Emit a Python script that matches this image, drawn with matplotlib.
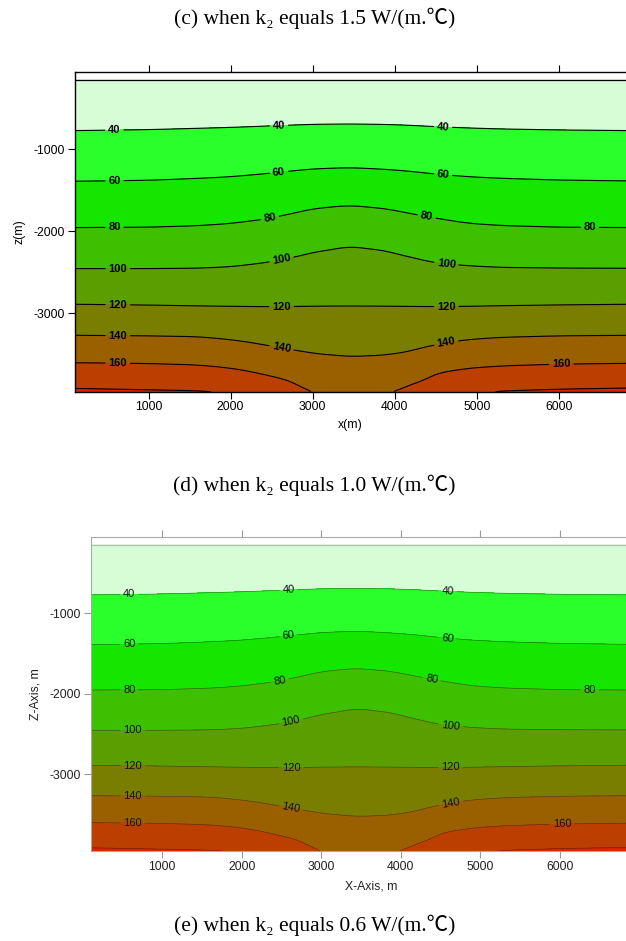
import numpy as np
import matplotlib
matplotlib.use("Agg")
import matplotlib.pyplot as plt

plt.rcParams['axes.unicode_minus'] = False
plt.rcParams['font.family'] = ['Liberation Sans', 'DejaVu Sans']

# ---------------- data ----------------
col_x = [100, 1000, 1600, 2000, 2400, 2700, 3000, 3450, 3900, 4200, 4500, 4900, 5300, 6000, 6840]
levels = [40, 60, 80, 100, 120, 140, 160, 180]
nan = np.nan
iso_40 = [-772, -760, -744, -733, -718, -706, -696, -691, -697, -708, -724, -740, -752, -764, -772]
iso_60 = [-1390, -1378, -1355, -1335, -1300, -1270, -1240, -1224, -1246, -1270, -1303, -1335, -1354, -1375, -1386]
iso_80 = [-1955, -1950, -1932, -1905, -1855, -1795, -1725, -1683, -1725, -1785, -1840, -1903, -1930, -1950, -1955]
iso_100 = [-2455, -2455, -2450, -2432, -2385, -2330, -2255, -2179, -2235, -2315, -2385, -2420, -2440, -2448, -2451]
iso_120 = [-2890, -2900, -2910, -2915, -2919, -2918, -2913, -2911, -2913, -2916, -2918, -2915, -2908, -2898, -2890]
iso_140 = [-3268, -3275, -3285, -3322, -3385, -3440, -3490, -3528, -3510, -3465, -3385, -3320, -3293, -3275, -3268]
iso_160 = [-3602, -3612, -3630, -3668, -3745, -3815, nan, nan, nan, -3870, -3735, -3670, -3642, -3620, -3610]
iso_180 = [-3915, -3932, -3943, nan, nan, nan, nan, nan, nan, nan, nan, nan, -3945, -3922, -3907]
bottom_T = [182.6, 181.5, 180.8, 179.7, 172.0, 166.0, 159.5, 154.0, 159.0, 163.0, 168.0, 178.8, 180.8, 181.5, 182.0]
surface_T = 20.0
z_top = -150.0
z_bottom = -3955.0

titles = ["(c) when k\u2082 equals 1.5 W/(m.\u2103)",
          "(d) when k\u2082 equals 1.0 W/(m.\u2103)",
          "(e) when k\u2082 equals 0.6 W/(m.\u2103)"]
x_ticks = [1000, 2000, 3000, 4000, 5000, 6000]
z_ticks = [-1000, -2000, -3000]

# label x positions (per level) for each panel
labels_p1 = {40: [585, 2590, 4590], 60: [585, 2590, 4590], 80: [585, 2480, 4390, 6380],
             100: [626, 2620, 4630], 120: [626, 2620, 4630], 140: [626, 2620, 4630],
             160: [626, 6030]}
labels_p2 = {40: [585, 2590, 4590], 60: [585, 2590, 4590], 80: [585, 2480, 4390, 6380],
             100: [626, 2620, 4630], 120: [626, 2620, 4630], 140: [626, 2620, 4630],
             160: [626, 6030]}

fill_colors = ['#D6FDD6', '#2BFF2B', '#14E600', '#3CC000', '#5A9E00',
               '#7A7E00', '#9A6000', '#BB4000', '#DC2000']

# ---------------- build field from isolines ----------------
iso = [iso_40, iso_60, iso_80, iso_100, iso_120, iso_140, iso_160, iso_180]
nz, nx = 420, 420
zz = np.linspace(z_bottom, z_top, nz)
cols = []
for j in range(len(col_x)):
    zs = [z_bottom]
    ts = [bottom_T[j]]
    for L, arr in zip(levels, iso):
        if not np.isnan(arr[j]):
            zs.append(arr[j]); ts.append(L)
    zs.append(z_top); ts.append(surface_T)
    zs = np.array(zs); ts = np.array(ts)
    o = np.argsort(zs)
    cols.append(np.interp(zz, zs[o], ts[o]))
cols = np.array(cols).T
xx = np.linspace(col_x[0], col_x[-1], nx)
T = np.array([np.interp(xx, col_x, cols[i]) for i in range(nz)])
# mild smoothing along x
w = 21
k = np.ones(w) / w
Tp = np.pad(T, ((0, 0), (w // 2, w // 2)), mode='edge')
T = np.array([np.convolve(r, k, mode='valid') for r in Tp])
w2 = 5
k2 = np.ones(w2) / w2
Tp = np.pad(T, ((w2 // 2, w2 // 2), (0, 0)), mode='edge')
T = np.array([np.convolve(c, k2, mode='valid') for c in Tp.T]).T
X, Z = np.meshgrid(xx, zz)


def iso_z(level, x):
    arr = np.array(iso[levels.index(level)], dtype=float)
    m = ~np.isnan(arr)
    return float(np.interp(x, np.array(col_x)[m], arr[m]))


fig = plt.figure(figsize=(6.26, 9.41), dpi=100)
title_font = dict(family=['Liberation Serif', 'Noto Sans CJK SC', 'DejaVu Serif'], fontsize=15.5)
for t, y in zip(titles, [1 - 18 / 941, 1 - 485 / 941, 1 - 925 / 941]):
    fig.text(0.502, y, t, ha='center', va='center', **title_font)


def panel(ax, xmax, ymax, lab, style):
    fl = [-100] + levels + [400]
    ax.contourf(X, Z, T, levels=fl, colors=fill_colors)
    if style == 1:
        cs = ax.contour(X, Z, T, levels=levels, colors='k', linewidths=0.8)
        ax.axhline(z_top, color='k', lw=0.9)
        fw, fcol, fs = 'bold', 'k', 8.0
        spc = '#000000'; tcol = '#000000'; lcol = '#000000'
    else:
        cs = ax.contour(X, Z, T, levels=levels, colors='#1a2a10', linewidths=0.5, alpha=0.55)
        ax.axhline(z_top, color='#b8b8b8', lw=0.8)
        fw, fcol, fs = 'normal', '#111111', 8.0
        spc = '#a8a8a8'; tcol = '#999999'; lcol = '#222222'
    pos = []
    for L, xs in lab.items():
        for xv in xs:
            pos.append((xv, iso_z(L, xv)))
    cl = ax.clabel(cs, levels=list(lab.keys()), manual=pos, inline=True, inline_spacing=3,
                   fmt='%d', fontsize=fs, colors=fcol)
    for t in cl:
        t.set_fontweight(fw)
        t.set_alpha(1.0)
    ax.set_xlim(100, xmax)
    ax.set_ylim(z_bottom, ymax)
    ax.set_xticks(x_ticks)
    ax.set_yticks(z_ticks)
    ax.tick_params(top=True, right=False, direction='out', length=5, width=0.8,
                   labelsize=8.8, color=tcol, labelcolor=lcol, pad=2)
    for s in ['left', 'top', 'bottom']:
        ax.spines[s].set_color(spc)
        ax.spines[s].set_linewidth(1.0 if style == 1 else 0.8)
    ax.spines['right'].set_visible(False)


ax1 = fig.add_axes([74.7 / 626, 1 - 391.7 / 941, 1 - 74.7 / 626, 320 / 941])
panel(ax1, 6820, -54, labels_p1, 1)
ax1.set_xlabel('x(m)', fontsize=8.8, labelpad=4)
ax1.set_ylabel('z(m)', fontsize=8.8, labelpad=6)

ax2 = fig.add_axes([90.7 / 626, 1 - 851 / 941, 1 - 90.7 / 626, 313.7 / 941])
panel(ax2, 6834, -56, labels_p2, 2)
ax2.set_xlabel('X-Axis, m', fontsize=8.8, labelpad=4, color='#222222')
ax2.xaxis.set_label_coords(0.525, -0.095)
ax2.set_ylabel('Z-Axis, m', fontsize=8.8, labelpad=6, color='#222222')

fig.savefig('out.png', dpi=100)
